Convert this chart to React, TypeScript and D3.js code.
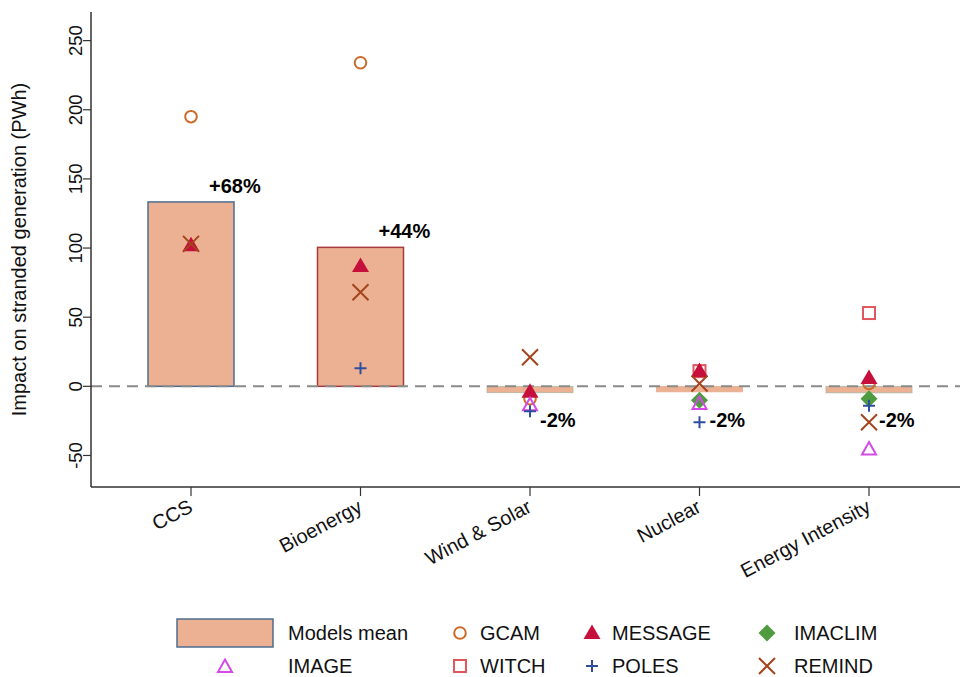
import React from "react";
import * as d3 from "d3";

const categories = ["CCS", "Bioenergy", "Wind & Solar", "Nuclear", "Energy Intensity"];
const GCAM = [195, 234, -9, NaN, 2];
const MESSAGE = [102, 87, -4, 11, 6];
const IMACLIM = [NaN, NaN, NaN, -10, -9];
const IMAGE = [NaN, NaN, -13, -12, -45];
const WITCH = [NaN, NaN, NaN, 11, 53];
const POLES = [NaN, 13, -18, -26, -14];
const REMIND = [103, 68, 21, 2, -26];
const pctLabels = ["+68%", "+44%", "-2%", "-2%", "-2%"];
const yTicks = [-50, 0, 50, 100, 150, 200, 250];

const W = 960;
const H = 677;
const FONT = "'Liberation Sans', Arial, Helvetica, sans-serif";
const barFill = "#ecb193";
const barStrokes = ["#4d6d8e", "#a7393f", "#b3b49f", "#e8ad8e", "#a9b4a4"];

type Shape = "circle" | "triFill" | "diamond" | "triOpen" | "square" | "plus" | "cross";
const models: { name: string; values: number[]; shape: Shape; color: string }[] = [
  { name: "GCAM", values: GCAM, shape: "circle", color: "#cc6a28" },
  { name: "WITCH", values: WITCH, shape: "square", color: "#e0585e" },
  { name: "MESSAGE", values: MESSAGE, shape: "triFill", color: "#c4103a" },
  { name: "IMACLIM", values: IMACLIM, shape: "diamond", color: "#4f9b40" },
  { name: "IMAGE", values: IMAGE, shape: "triOpen", color: "#d44ae6" },
  { name: "POLES", values: POLES, shape: "plus", color: "#2f4f9e" },
  { name: "REMIND", values: REMIND, shape: "cross", color: "#a3441c" },
];

function Marker({ shape, color, x, y }: { shape: Shape; color: string; x: number; y: number }) {
  const t = `translate(${x},${y})`;
  switch (shape) {
    case "circle":
      return <circle transform={t} r={5.8} fill="none" stroke={color} strokeWidth={2} />;
    case "square":
      return <rect transform={t} x={-6} y={-6} width={12} height={12} fill="none" stroke={color} strokeWidth={2} />;
    case "triFill":
      return <path transform={t} d="M0,-8.5 L8.5,6 L-8.5,6 Z" fill={color} />;
    case "triOpen":
      return <path transform={t} d="M0,-6.5 L7,6 L-7,6 Z" fill="none" stroke={color} strokeWidth={2} strokeLinejoin="miter" />;
    case "diamond":
      return <path transform={t} d="M0,-8.5 L8.5,0 L0,8.5 L-8.5,0 Z" fill={color} />;
    case "plus":
      return <path transform={t} d="M-6,0 L6,0 M0,-6 L0,6" stroke={color} strokeWidth={2} fill="none" />;
    case "cross":
      return <path transform={t} d="M-8,-8 L8,8 M-8,8 L8,-8" stroke={color} strokeWidth={2} fill="none" />;
  }
  return null;
}

const legendRow1 = ["Models mean", "GCAM", "MESSAGE", "IMACLIM"];
const legendRow2 = ["IMAGE", "WITCH", "POLES", "REMIND"];

export default function App() {
  const left = 91;
  const top = 12;
  const bottom = 487;
  const y = d3.scaleLinear().domain([-72.8, 270.7]).range([bottom, top]);
  const x = d3.scalePoint<string>().domain(categories).range([191, 869]);
  const barW = 86;
  const means = categories.map((_, i) =>
    d3.mean(models.map((m) => m.values[i]).filter((v) => !isNaN(v))) as number
  );

  const symX = [225, 460, 592, 767];
  const textX = [288, 480, 612, 794];
  const row1Y = 633;
  const row2Y = 666;
  const findModel = (n: string) => models.find((m) => m.name === n)!;

  return (
    <svg width={W} height={H} style={{ position: "absolute", left: 0, top: 0, background: "#fff" }} fontFamily={FONT}>
      {/* bars */}
      {categories.map((c, i) => {
        const m = means[i];
        const y0 = y(Math.max(m, 0));
        const y1 = y(Math.min(m, 0));
        return (
          <rect key={c} x={(x(c) as number) - barW / 2} y={y0} width={barW} height={y1 - y0}
            fill={barFill} stroke={barStrokes[i]} strokeWidth={i < 2 ? 1.5 : 0.8} />
        );
      })}
      {/* zero dashed line */}
      <line x1={left} x2={W} y1={y(0)} y2={y(0)} stroke="#8a8a8a" strokeWidth={2} strokeDasharray="11 7" />
      {/* axes */}
      <line x1={left} x2={left} y1={top} y2={bottom} stroke="#333" strokeWidth={1.5} />
      <line x1={left} x2={W} y1={bottom} y2={bottom} stroke="#333" strokeWidth={1.5} />
      {yTicks.map((t) => (
        <g key={t}>
          <line x1={left - 8} x2={left} y1={y(t)} y2={y(t)} stroke="#333" strokeWidth={1.2} />
          <text transform={`translate(82,${y(t)}) rotate(-90)`} textAnchor="middle" fontSize={18.5} fill="#111">
            {t}
          </text>
        </g>
      ))}
      <text transform={`translate(26,${(top + bottom) / 2}) rotate(-90)`} textAnchor="middle" fontSize={20} fill="#111">
        Impact on stranded generation (PWh)
      </text>
      {categories.map((c) => (
        <g key={c}>
          <line x1={x(c)} x2={x(c)} y1={bottom} y2={bottom + 9} stroke="#333" strokeWidth={1.2} />
          <text transform={`translate(${(x(c) as number) + 3},511) rotate(-28)`} textAnchor="end" fontSize={20} fill="#111">
            {c}
          </text>
        </g>
      ))}
      {/* markers */}
      {models.map((m) =>
        m.values.map((v, i) =>
          isNaN(v) ? null : <Marker key={m.name + i} shape={m.shape} color={m.color} x={x(categories[i]) as number} y={y(v)} />
        )
      )}
      {/* percentage labels */}
      {categories.map((c, i) => {
        const m = means[i];
        const cx = x(c) as number;
        return m >= 0 ? (
          <text key={c} x={cx + 18} y={y(m) - 9} fontSize={20} fontWeight="bold" fill="#000">
            {pctLabels[i]}
          </text>
        ) : (
          <text key={c} x={cx + 10} y={y(0) + 41} fontSize={20} fontWeight="bold" fill="#000">
            {pctLabels[i]}
          </text>
        );
      })}
      {/* legend */}
      <rect x={177} y={619} width={96} height={28} fill={barFill} stroke="#4d6d8e" strokeWidth={1.5} />
      {legendRow1.map((n, j) => (
        <g key={n}>
          {j > 0 && <Marker shape={findModel(n).shape} color={findModel(n).color} x={symX[j]} y={row1Y} />}
          <text x={textX[j]} y={row1Y} dominantBaseline="central" fontSize={20} fill="#111">{n}</text>
        </g>
      ))}
      {legendRow2.map((n, j) => (
        <g key={n}>
          <Marker shape={findModel(n).shape} color={findModel(n).color} x={symX[j]} y={row2Y} />
          <text x={textX[j]} y={row2Y} dominantBaseline="central" fontSize={20} fill="#111">{n}</text>
        </g>
      ))}
    </svg>
  );
}
